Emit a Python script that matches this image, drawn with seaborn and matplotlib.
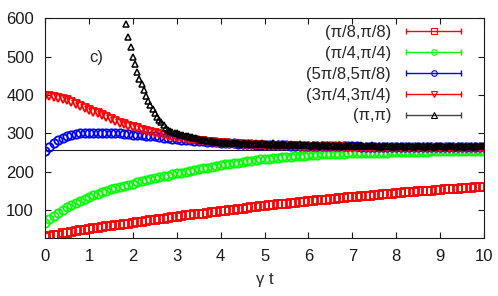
import numpy as np
import seaborn as sns
import matplotlib.pyplot as plt
from matplotlib.lines import Line2D
from matplotlib.legend_handler import HandlerLine2D

# time grids (gamma t)
t = np.round(np.arange(0, 101) * 0.1, 2)
t_pi = np.round(np.arange(37, 201) * 0.05, 2)

labels = ["(π/8,π/8)", "(π/4,π/4)", "(5π/8,5π/8)", "(3π/4,3π/4)", "(π,π)"]
colors = ["#ff0000", "#00ff00", "#0000ff", "#ff0000", "#000000"]
markers = ["s", "o", "o", "v", "^"]

pi8 = [30, 32, 34, 36, 39, 41, 43, 45, 47, 49,
       51, 53, 54, 56, 58, 59, 61, 62, 64, 65,
       67, 69, 70, 72, 73, 75, 77, 78, 80, 81,
       83, 84, 86, 87, 89, 90, 91, 93, 94, 96,
       97, 98, 100, 101, 103, 104, 105, 107, 108, 110,
       111, 112, 113, 115, 116, 117, 118, 119, 121, 122,
       123, 124, 125, 126, 127, 128, 130, 131, 132, 133,
       134, 135, 136, 137, 138, 139, 140, 141, 142, 143,
       144, 145, 146, 147, 148, 149, 149, 150, 151, 152,
       153, 154, 154, 155, 156, 157, 158, 158, 159, 160,
       161]

pi4 = [66, 76, 85, 93, 100, 107, 113, 119, 124, 130,
       135, 139, 143, 147, 150, 154, 157, 160, 163, 166,
       169, 172, 175, 178, 180, 183, 185, 188, 190, 193,
       196, 198, 200, 202, 204, 207, 209, 211, 213, 215,
       217, 219, 221, 222, 224, 226, 227, 229, 230, 232,
       233, 234, 235, 236, 238, 239, 239, 240, 241, 242,
       243, 244, 244, 245, 245, 246, 246, 247, 247, 248,
       248, 248, 249, 249, 249, 250, 250, 250, 250, 251,
       251, 251, 251, 252, 252, 252, 252, 252, 253, 253,
       253, 253, 253, 254, 254, 254, 254, 254, 254, 255,
       255]

pi58 = [254, 265, 275, 283, 289, 293, 296, 298, 300, 301,
        302, 302, 302, 302, 301, 301, 300, 300, 299, 298,
        297, 296, 295, 294, 293, 292, 290, 289, 288, 286,
        285, 284, 283, 282, 281, 280, 279, 278, 277, 277,
        276, 275, 275, 274, 273, 273, 272, 272, 271, 271,
        270, 270, 270, 269, 269, 269, 268, 268, 268, 268,
        267, 267, 267, 267, 267, 266, 266, 266, 266, 266,
        266, 266, 265, 265, 265, 265, 265, 265, 265, 265,
        265, 265, 265, 265, 265, 265, 265, 265, 264, 264,
        264, 264, 264, 264, 264, 264, 264, 264, 264, 264,
        264]

pi34 = [398, 397, 395, 393, 390, 386, 382, 377, 372, 367,
        362, 357, 352, 347, 342, 337, 333, 328, 324, 320,
        316, 313, 310, 307, 304, 301, 298, 296, 293, 291,
        289, 287, 285, 283, 282, 280, 279, 278, 277, 276,
        275, 274, 273, 272, 272, 271, 270, 270, 269, 269,
        268, 268, 267, 267, 267, 266, 266, 266, 265, 265,
        265, 265, 265, 264, 264, 264, 264, 264, 264, 263,
        263, 263, 263, 263, 263, 263, 263, 263, 263, 263,
        263, 263, 263, 263, 262, 262, 262, 262, 262, 262,
        262, 262, 262, 262, 262, 262, 262, 262, 262, 262,
        262]

pipi = [584, 551, 525, 499, 480, 460, 443, 428, 413, 398,
        384, 374, 364, 352, 344, 335, 329, 322, 315, 309,
        306, 304, 302, 300, 299, 297, 296, 294, 293, 291,
        290, 288, 287, 285, 284, 283, 282, 281, 280, 279,
        278, 278, 277, 277,
        276, 277, 275, 276, 274, 275, 276, 274, 273, 275,
        274, 273, 275, 273, 272, 274, 273, 272, 274, 272,
        273, 271, 272, 274, 271, 272, 270, 272, 273, 271,
        270, 272, 271, 269, 271, 272, 270, 269, 271, 270,
        268, 270, 271, 269, 268, 270, 269, 267, 270, 268,
        269, 267, 268, 270, 268, 266, 269, 268, 267, 269,
        267, 268, 266, 269, 267, 268, 266, 267, 269, 266,
        268, 267, 265, 268, 267, 266, 268, 267, 265, 268,
        266, 267, 268, 265, 267, 266, 268, 265, 267, 266,
        268, 266, 265, 267, 268, 266, 265, 267, 266, 268,
        266, 265, 267, 268, 266, 267, 265, 268, 266, 267,
        265, 267, 268, 266, 265, 267, 266, 268, 267, 266]

series = [(t, pi8), (t, pi4), (t, pi58), (t, pi34), (t_pi, pipi)]
sizes = [6, 6, 6, 6, 4]
widths = [1.3, 1.3, 1.3, 1.3, 1.1]

sns.set_theme(style="ticks")
plt.rcParams["font.family"] = ["Liberation Sans", "DejaVu Sans"]

fig, ax = plt.subplots(figsize=(4.98, 2.96), dpi=100)
fig.subplots_adjust(left=0.0904, right=0.972, bottom=0.197, top=0.938)

ax.axhline(256, color="#222222", lw=0.8, zorder=1)

for (x, y), c, m, ms, mw in zip(series, colors, markers, sizes, widths):
    sns.lineplot(x=x, y=y, ax=ax, color=c, marker=m, linestyle="",
                 mfc="none", mec=c, ms=ms, mew=mw, errorbar=None, legend=False)

ax.set_xlim(0, 10)
ax.set_ylim(28, 600)
ax.set_xticks(range(0, 11))
ax.set_yticks([100, 200, 300, 400, 500, 600])
ax.tick_params(direction="in", length=4, width=0.8, top=True, right=True,
               labelsize=12, pad=8, colors="k")
for s in ax.spines.values():
    s.set_color("k")
    s.set_linewidth(0.8)
ax.set_xlabel("γ t", fontsize=12, labelpad=6)
ax.set_ylabel("")
ax.text(0.116, 0.82, "c)", transform=ax.transAxes, fontsize=12,
        ha="center", va="center")

handles = []
hmap = {}
for c, m in zip(colors, markers):
    lc = "#444444" if c == "#000000" else c
    bar = Line2D([], [], color=lc, lw=1, marker="|", ms=5, mew=1)
    dot = Line2D([], [], color=c, ls="", marker=m, mfc="none", mec=c, ms=4, mew=0.8)
    hmap[bar] = HandlerLine2D(numpoints=2)
    hmap[dot] = HandlerLine2D(numpoints=1)
    handles.append((bar, dot))
ax.legend(handles, labels, handler_map=hmap, loc="upper right",
          bbox_to_anchor=(0.959, 0.969), frameon=False, markerfirst=False,
          handlelength=3.9, handletextpad=0.6, labelspacing=0.35,
          borderpad=0, borderaxespad=0, fontsize=12)

plt.savefig("out.png", dpi=100)
